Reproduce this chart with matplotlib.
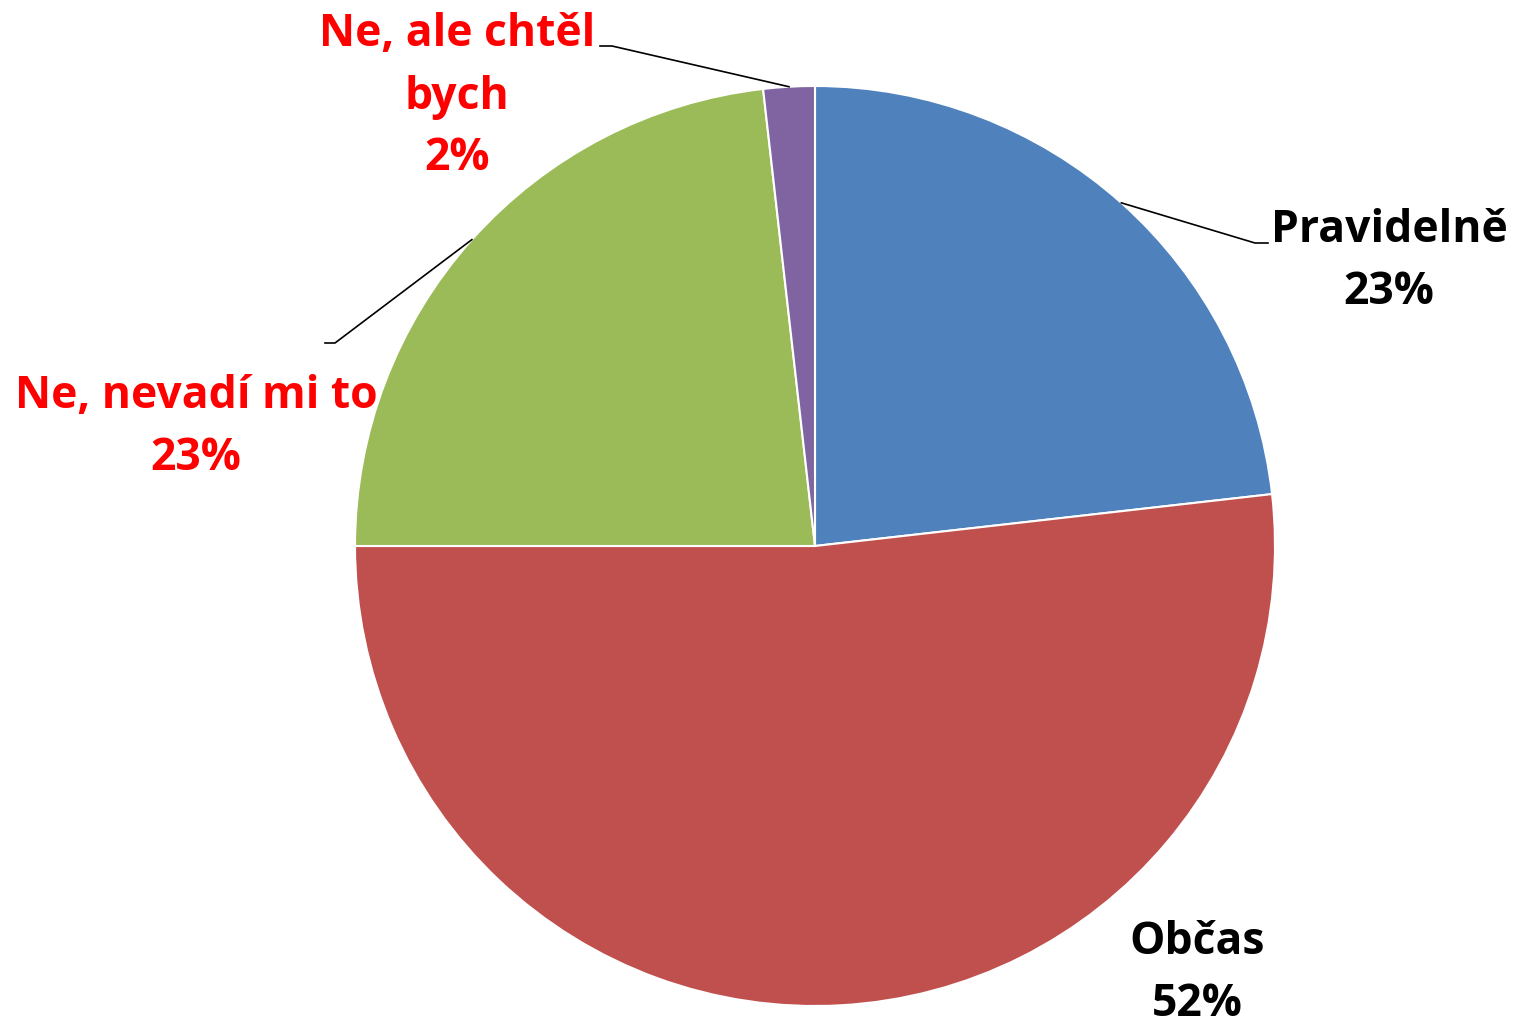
import numpy as np
import matplotlib.pyplot as plt

labels = ["Pravidelně", "Občas", "Ne, nevadí mi to", "Ne, ale chtěl\nbych"]
values = [23.2, 51.8, 23.2, 1.8]
pct_labels = ["23%", "52%", "23%", "2%"]
colors = ["#4F81BD", "#C0504D", "#9BBB59", "#8064A2"]
text_colors = ["black", "black", "#FF0000", "#FF0000"]

# label centres and leader elbows (pixel-like units, pie centre at origin)
label_pos = [(574, 284), (382, -428), (-619, 119), (-358, 449)]
elbows = [(440, 303), None, (-480, 203), (-203, 500)]
elbow_ends = [(453, 303), None, (-490, 203), (-215, 500)]

fig = plt.figure(figsize=(15.13, 10.27), dpi=100)
ax = fig.add_axes([0, 0, 1, 1])

R = 460
wedges, _ = ax.pie(
    values,
    colors=colors,
    startangle=90,
    counterclock=False,
    radius=R,
    center=(0, 0),
    wedgeprops=dict(edgecolor="white", linewidth=1.5),
)
ax.set_xlim(-815, 698)
ax.set_ylim(-481, 546)
ax.set_aspect("equal")
ax.axis("off")

for i, w in enumerate(wedges):
    mid = np.deg2rad((w.theta1 + w.theta2) / 2)
    if elbows[i] is not None:
        sx, sy = R * np.cos(mid), R * np.sin(mid)
        ex, ey = elbows[i]
        fx, fy = elbow_ends[i]
        ax.plot([sx, ex, fx], [sy, ey, fy], color="black", lw=1.2, zorder=5)
    ax.text(
        label_pos[i][0], label_pos[i][1],
        labels[i] + "\n" + pct_labels[i],
        ha="center", va="center",
        fontsize=32, fontweight="bold", family="Open Sans",
        color=text_colors[i], linespacing=1.5,
    )

fig.savefig("out.png", dpi=100)
